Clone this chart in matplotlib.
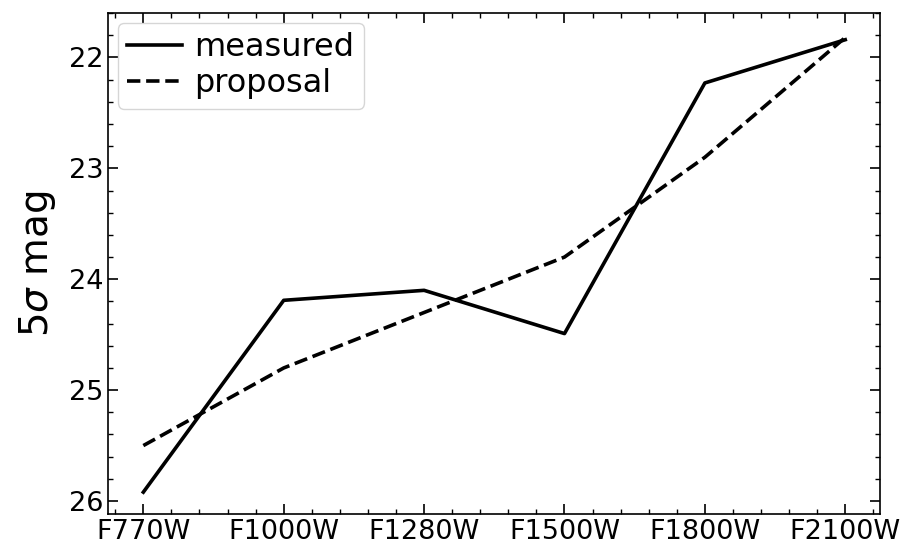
import numpy as np
import matplotlib
matplotlib.use("Agg")
import matplotlib.pyplot as plt
from matplotlib.ticker import AutoMinorLocator

# MIRI filters and 5-sigma limiting magnitudes
filters = ["F770W", "F1000W", "F1280W", "F1500W", "F1800W", "F2100W"]
measured = [25.92, 24.19, 24.10, 24.49, 22.23, 21.84]
proposal = [25.50, 24.80, 24.30, 23.80, 22.90, 21.82]

x = np.arange(len(filters))

fig, ax = plt.subplots(figsize=(9.02, 5.46), dpi=100)
fig.subplots_adjust(left=0.12, right=0.976, top=0.976, bottom=0.058)

ax.plot(x, measured, color="black", lw=2.6, ls="-", label="measured")
ax.plot(x, proposal, color="black", lw=2.6, ls="--", label="proposal")

ax.set_xticks(x)
ax.set_xticklabels(filters)
ax.set_xlim(-0.25, 5.25)
ax.set_ylim(26.12, 21.6)
ax.set_yticks([22, 23, 24, 25, 26])

ax.xaxis.set_minor_locator(AutoMinorLocator(5))
ax.yaxis.set_minor_locator(AutoMinorLocator(5))
ax.tick_params(which="both", direction="in", top=True, right=True, labelsize=19.5)
ax.tick_params(which="major", length=7, width=1.2)
ax.tick_params(which="minor", length=3.5, width=1)
for sp in ax.spines.values():
    sp.set_linewidth(1.2)

ax.set_ylabel(r"5$\sigma$ mag", fontsize=28, labelpad=8)
ax.legend(loc="upper left", fontsize=23, handlelength=1.7,
          borderaxespad=0.3, borderpad=0.3, labelspacing=0.15, handletextpad=0.4)

fig.savefig("out.png")
